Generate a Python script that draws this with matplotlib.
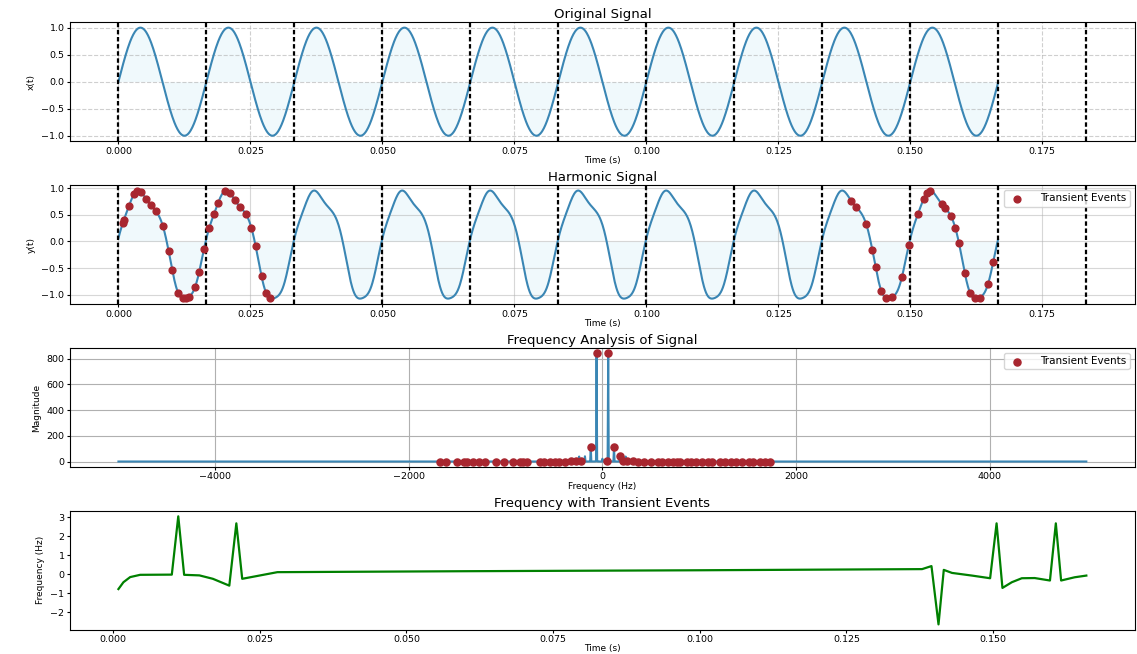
import numpy as np
import matplotlib.pyplot as plt
from matplotlib.ticker import MultipleLocator

fs = 10000          # sampling rate (Hz)
f0 = 60             # fundamental (Hz)
n_samples = 1667

# harmonic content of the distorted signal
harm_order = [0, 1, 2, 3, 4, 5]
harm_cos = [0.013, -0.093, 0.127, -0.048, 0.046, 0.013]
harm_sin = [0.0, 1.003, 0.055, -0.008, 0.004, -0.007]

# cycle boundaries marked by the dashed lines
cycle_marks = [0.0, 0.01667, 0.03333, 0.05, 0.06667, 0.08333, 0.1,
               0.11667, 0.13333, 0.15, 0.16667, 0.18333]

# sample indices flagged as transient events
event_idx = [8, 10, 20, 30, 36, 43, 52, 61, 71, 84, 95, 102, 113, 122, 128,
             134, 145, 153, 162, 172, 181, 189, 202, 211, 221, 230, 241, 252,
             260, 271, 280, 288,
             1388, 1397, 1416, 1428, 1434, 1445, 1454, 1465, 1484, 1497, 1514,
             1525, 1531, 1538, 1559, 1566, 1577, 1585, 1592, 1603, 1613, 1622,
             1631, 1647, 1657]

# instantaneous frequency trace (bottom panel)
inst_t = [0.0009, 0.00175, 0.0029, 0.0046, 0.0100, 0.0111, 0.0121, 0.0147,
          0.0170, 0.0198, 0.0210, 0.0220, 0.0244, 0.0280, 0.0600, 0.1000,
          0.1379, 0.1395, 0.1407, 0.1416, 0.1430, 0.1464, 0.1495, 0.1506,
          0.1516, 0.1532, 0.1549, 0.1571, 0.1597, 0.1607, 0.1616, 0.1639,
          0.1659]
inst_f = [-0.78, -0.42, -0.15, -0.03, -0.02, 3.05, -0.03, -0.06,
          -0.24, -0.60, 2.68, -0.24, -0.10, 0.11, 0.16, 0.21,
          0.27, 0.43, -2.64, 0.23, 0.07, -0.07, -0.21, 2.68,
          -0.72, -0.42, -0.21, -0.20, -0.33, 2.68, -0.33, -0.16,
          -0.07]

t = np.arange(n_samples) / fs
w = 2 * np.pi * f0 * t
x = np.sin(w)
y = np.zeros_like(t)
for k, a, b in zip(harm_order, harm_cos, harm_sin):
    y += a * np.cos(k * w) + b * np.sin(k * w)

spec = np.fft.fft(y)
freqs = np.fft.fftfreq(n_samples, 1 / fs)
mag = np.abs(spec)

ev = np.array(event_idx)

line_c = '#3a86b4'
dot_c = '#a8262f'
mark_ls = (0, (2, 1.2))
title_fs = 9.5
label_fs = 6.5

fig, axes = plt.subplots(4, 1, figsize=(11.37, 6.54), dpi=100)
fig.subplots_adjust(left=0.0616, right=0.998, top=0.966, bottom=0.037, hspace=0.37)

# 1. original signal
ax = axes[0]
ax.plot(t, x, color=line_c, lw=1.5)
ax.fill_between(t, x, color='skyblue', alpha=0.12, lw=0)
for m in cycle_marks:
    ax.axvline(m, color='k', linestyle=mark_ls, lw=1.6)
ax.set_title('Original Signal', fontsize=title_fs, pad=3)
ax.set_xlabel('Time (s)', fontsize=label_fs, labelpad=0.5)
ax.set_ylabel('x(t)', fontsize=label_fs)
ax.grid(True, linestyle='--', alpha=0.6)

# 2. harmonic signal
ax = axes[1]
ax.plot(t, y, color=line_c, lw=1.5)
ax.fill_between(t, y, color='skyblue', alpha=0.12, lw=0)
for m in cycle_marks:
    ax.axvline(m, color='k', linestyle=mark_ls, lw=1.6)
ax.scatter(t[ev], y[ev], color=dot_c, s=24, zorder=3, label='Transient Events')
ax.set_title('Harmonic Signal', fontsize=title_fs, pad=3)
ax.set_xlabel('Time (s)', fontsize=label_fs, labelpad=0.5)
ax.set_ylabel('y(t)', fontsize=label_fs)
ax.grid(True, alpha=0.5)
ax.legend(loc='upper right', fontsize=7.5, handletextpad=1.2, borderpad=0.3)

# 3. spectrum
ax = axes[2]
ax.plot(np.fft.fftshift(freqs), np.fft.fftshift(mag), color=line_c, lw=1.5)
ax.scatter(freqs[ev], mag[ev], color=dot_c, s=26, zorder=3, label='Transient Events')
ax.set_title('Frequency Analysis of Signal', fontsize=title_fs, pad=3)
ax.set_xlabel('Frequency (Hz)', fontsize=label_fs, labelpad=0.5)
ax.set_ylabel('Magnitude', fontsize=label_fs)
ax.grid(True)
ax.legend(loc='upper right', fontsize=7.5, handletextpad=1.2, borderpad=0.3)

# 4. frequency trace
ax = axes[3]
ax.plot(inst_t, inst_f, color='green', lw=1.6)
ax.yaxis.set_major_locator(MultipleLocator(1))
ax.set_title('Frequency with Transient Events', fontsize=title_fs, pad=3)
ax.set_xlabel('Time (s)', fontsize=label_fs, labelpad=0)
ax.set_ylabel('Frequency (Hz)', fontsize=label_fs)

for ax in axes:
    ax.tick_params(labelsize=6.8, length=2.5, pad=1.5)

fig.savefig('out.png', dpi=100)
